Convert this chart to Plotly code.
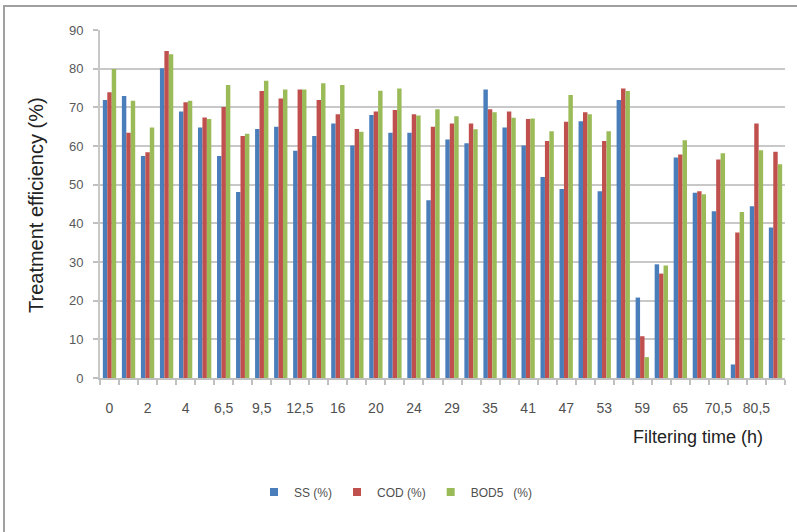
import plotly.graph_objects as go

# Filtering time categories (every other one labelled on the axis)
categories = ["0", "1", "2", "3", "4", "5", "6,5", "8", "9,5", "11", "12,5", "14",
              "16", "18", "20", "22", "24", "26,5", "29", "32", "35", "38", "41", "44",
              "47", "50", "53", "56", "59", "62", "65", "68", "70,5", "75,5", "80,5", "85,5"]
tick_labels = ["0", "", "2", "", "4", "", "6,5", "", "9,5", "", "12,5", "",
               "16", "", "20", "", "24", "", "29", "", "35", "", "41", "",
               "47", "", "53", "", "59", "", "65", "", "70,5", "", "80,5", ""]

ss = [71.9, 72.9, 57.4, 80.1, 68.9, 64.8, 57.4, 48.1, 64.4, 65.0, 58.8, 62.6,
      65.8, 60.1, 68.0, 63.4, 63.4, 46.0, 61.7, 60.7, 74.6, 64.8, 60.1, 52.0,
      48.9, 66.4, 48.3, 71.9, 20.8, 29.4, 57.0, 47.9, 43.1, 3.5, 44.4, 38.9]
cod = [73.9, 63.4, 58.4, 84.6, 71.3, 67.4, 70.1, 62.6, 74.2, 72.3, 74.6, 71.9,
       68.2, 64.4, 68.9, 69.3, 68.2, 65.0, 65.8, 65.8, 69.5, 68.9, 67.0, 61.3,
       66.3, 68.7, 61.3, 74.9, 10.8, 27.0, 57.8, 48.3, 56.5, 37.6, 65.8, 58.5]
bod = [79.9, 71.7, 64.8, 83.7, 71.7, 67.0, 75.8, 63.2, 76.9, 74.6, 74.6, 76.2,
       75.8, 63.7, 74.3, 74.9, 67.9, 69.5, 67.7, 64.3, 68.7, 67.3, 67.1, 63.8,
       73.2, 68.2, 63.8, 74.2, 5.4, 29.1, 61.5, 47.5, 58.1, 42.9, 58.9, 55.3]

series_names = ["SS (%)", "COD (%)", "BOD5   (%)"]
colors = ["#4A7EBB", "#C0504D", "#9BBB59"]

fig = go.Figure()
for name, vals, col in zip(series_names, [ss, cod, bod], colors):
    fig.add_trace(go.Bar(x=categories, y=vals, name=name, marker_color=col,
                         marker_line_width=0, showlegend=False))
# legend entries with small square swatches
for name, col in zip(series_names, colors):
    fig.add_trace(go.Scatter(x=[None], y=[None], mode="markers", name=name,
                             marker=dict(symbol="square", size=8, color=col)))

W, H = 797, 532
L, R, T, B = 100, 12, 30, 154
pw, ph = W - L - R, H - T - B

def px(x):
    return (x - L) / pw

def py(y):
    return (H - B - y) / ph

tickfam = "Liberation Sans, Arial, sans-serif"

fig.update_layout(
    width=W, height=H,
    margin=dict(l=L, r=R, t=T, b=B),
    paper_bgcolor="white", plot_bgcolor="white",
    barmode="group", bargap=0.3, bargroupgap=0.0,
    font=dict(family="Liberation Sans, Arial, sans-serif", color="#404040"),
    showlegend=True,
    legend=dict(orientation="h", x=px(254), xanchor="left", y=py(492), yanchor="middle",
                font=dict(size=12, family=tickfam, color="#505050"),
                itemwidth=30, tracegroupgap=0, bgcolor="rgba(0,0,0,0)"),
    xaxis=dict(type="category", tickmode="array", tickvals=categories, ticktext=tick_labels,
               tickson="boundaries", ticks="outside", ticklen=5, tickcolor="#c0c0c0",
               tickwidth=1.5, ticklabelstandoff=16,
               tickfont=dict(size=14, family=tickfam, color="#505050"),
               showline=True, linecolor="#c0c0c0", linewidth=2, showgrid=False,
               range=[-0.5, len(categories) - 0.5], tickangle=0),
    yaxis=dict(range=[0, 90], dtick=10, tick0=0, showgrid=True, gridcolor="#c8c8c8",
               gridwidth=2, ticks="outside", ticklen=5, tickcolor="#c0c0c0", tickwidth=1.5,
               showline=True, linecolor="#c8c8c8", linewidth=2, zeroline=False,
               ticklabelstandoff=7,
               tickfont=dict(size=13, family=tickfam, color="#595959")),
    annotations=[
        dict(text="Treatment efficiency (%)", xref="paper", yref="paper",
             x=px(36), y=py(205), textangle=-90, showarrow=False,
             font=dict(size=20, color="#222222"), xanchor="center", yanchor="middle"),
        dict(text="Filtering time (h)", xref="paper", yref="paper",
             x=px(698), y=py(437), showarrow=False,
             font=dict(size=18, color="#222222"), xanchor="center", yanchor="middle"),
    ],
    shapes=[
        dict(type="rect", xref="paper", yref="paper",
             x0=px(4), x1=px(810), y0=py(545), y1=py(6),
             line=dict(color="#a0a0a0", width=2), fillcolor="rgba(0,0,0,0)", layer="below"),
    ],
)

fig.write_html("out.html")
